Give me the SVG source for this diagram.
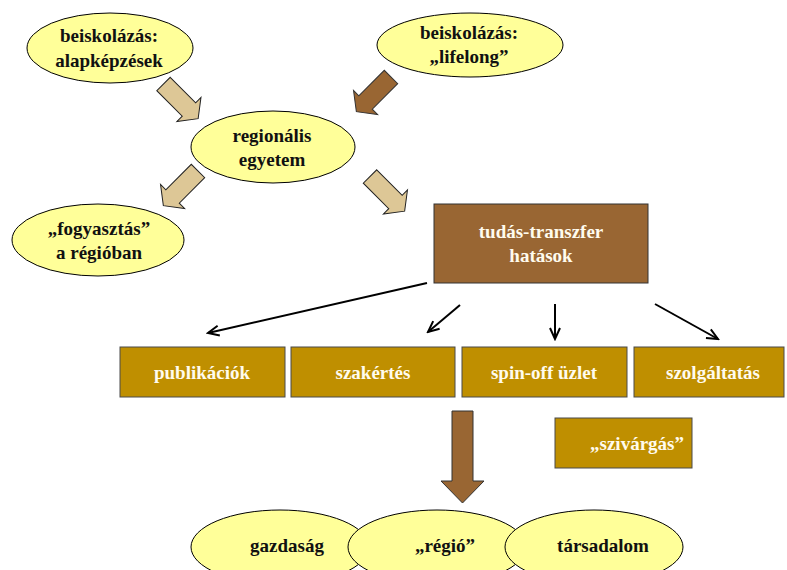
<svg xmlns="http://www.w3.org/2000/svg" width="787" height="570" viewBox="0 0 787 570">
<style>
.ell{fill:#ffff99;stroke:#000;stroke-width:1}
.t{font-family:"Liberation Serif",serif;font-weight:bold;font-size:19px;text-anchor:middle;fill:#111}
.tw{font-family:"Liberation Serif",serif;font-weight:bold;font-size:19px;text-anchor:middle;fill:#fffbee}
.box{fill:#bf8f00;stroke:#4a4a4a;stroke-width:1}
.brown{fill:#996633;stroke:#333;stroke-width:1}
.tan{fill:#ddc796;stroke:#222;stroke-width:1}
.con{stroke:#000;stroke-width:2;fill:none;marker-end:url(#ah)}
</style>
<defs>
<path id="blk" d="M0,-9.5 L36,-9.5 L36,-17 L49,0 L36,17 L36,9.5 L0,9.5 Z"/>
<marker id="ah" markerUnits="userSpaceOnUse" markerWidth="14" markerHeight="14" refX="12" refY="6" orient="auto" viewBox="0 0 14 12">
<path d="M1,1 L12,6 L1,11" fill="none" stroke="#000" stroke-width="2"/>
</marker>
</defs>
<g id="connectors">
<use href="#blk" class="tan" transform="translate(163.5,84) rotate(45)"/>
<use href="#blk" class="brown" transform="translate(391,77) rotate(135)"/>
<use href="#blk" class="tan" transform="translate(198,171) rotate(135)"/>
<use href="#blk" class="tan" transform="translate(370,176.5) rotate(45)"/>
<polygon class="brown" points="452,411 473,411 473,481 484,481 462.5,503 441,481 452,481"/>
<line class="con" x1="427" y1="283" x2="208" y2="333"/>
<line class="con" x1="460" y1="305" x2="428" y2="332"/>
<line class="con" x1="555" y1="304" x2="555" y2="339"/>
<line class="con" x1="655" y1="304" x2="718" y2="339"/>
</g>
<g id="n-alap">
<ellipse class="ell" cx="110" cy="48" rx="83" ry="35"/>
<text class="t" x="109" y="42">beiskolázás:</text>
<text class="t" x="109" y="67">alapképzések</text>
</g>
<g id="n-lifelong">
<ellipse class="ell" cx="470" cy="45" rx="93" ry="32"/>
<text class="t" x="469" y="39">beiskolázás:</text>
<text class="t" x="469" y="63">„lifelong”</text>
</g>
<g id="n-regionalis">
<ellipse class="ell" cx="273" cy="147" rx="82" ry="36"/>
<text class="t" x="272" y="142">regionális</text>
<text class="t" x="272" y="166">egyetem</text>
</g>
<g id="n-fogyasztas">
<ellipse class="ell" cx="98" cy="240" rx="86" ry="36"/>
<text class="t" x="99" y="235">„fogyasztás”</text>
<text class="t" x="99" y="259">a régióban</text>
</g>
<g id="n-tudas">
<rect class="brown" x="434" y="204" width="214" height="79" stroke="#333"/>
<text class="tw" x="541" y="238">tudás-transzfer</text>
<text class="tw" x="541" y="262">hatások</text>
</g>
<g id="n-publikaciok">
<rect class="box" x="120" y="347" width="165" height="50"/>
<text class="tw" x="202" y="379">publikációk</text>
</g>
<g id="n-szakertes">
<rect class="box" x="291" y="347" width="164" height="50"/>
<text class="tw" x="373" y="379">szakértés</text>
</g>
<g id="n-spinoff">
<rect class="box" x="462" y="347" width="165" height="50"/>
<text class="tw" x="544" y="379">spin-off üzlet</text>
</g>
<g id="n-szolgaltatas">
<rect class="box" x="634" y="347" width="150" height="50"/>
<text class="tw" x="713" y="379">szolgáltatás</text>
</g>
<g id="n-szivargas">
<rect class="box" x="555" y="418" width="137" height="50"/>
<text class="tw" x="637" y="450">„szivárgás”</text>
</g>
<g id="n-gazdasag">
<ellipse class="ell" cx="280" cy="547" rx="89" ry="37"/>
<text class="t" x="287" y="552">gazdaság</text>
</g>
<g id="n-regio">
<ellipse class="ell" cx="437" cy="547" rx="89" ry="37"/>
<text class="t" x="445" y="552">„régió”</text>
</g>
<g id="n-tarsadalom">
<ellipse class="ell" cx="594" cy="547" rx="89" ry="37"/>
<text class="t" x="603" y="552">társadalom</text>
</g>
</svg>
